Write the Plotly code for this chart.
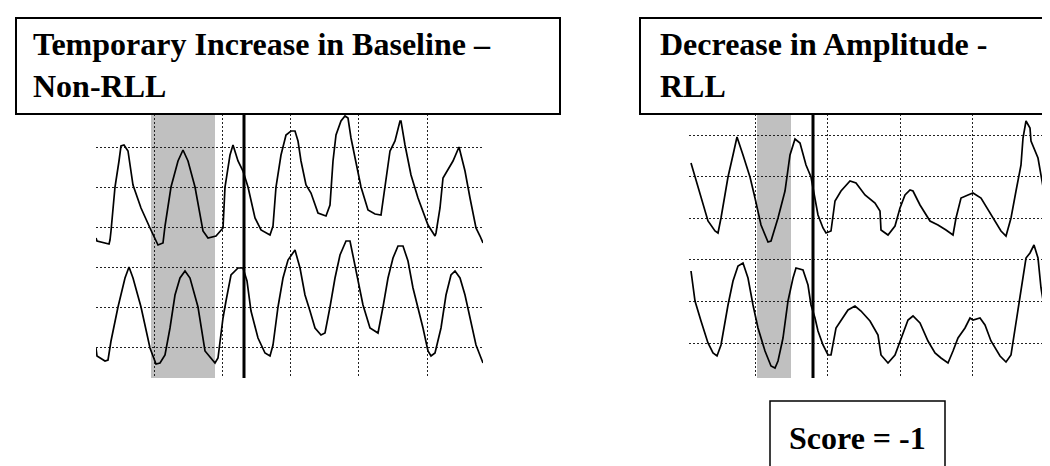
import plotly.graph_objects as go

W, H = 1050, 466

# ---------------- data (sample index / amplitude units) ----------------
left_top_t = [88, 89, 101, 102, 103, 107, 111, 113, 116, 120, 125, 133, 142, 150, 155, 157, 163, 170, 175, 180,
              187, 195, 200, 208, 215, 217, 222, 225, 230, 235, 240, 247, 253, 262, 265, 268, 273, 278, 283, 287,
              290, 293, 298, 303, 310, 318, 322, 325, 328, 333, 337, 340, 343, 348, 353, 360, 367, 373, 377, 382,
              387, 392, 393, 397, 403, 410, 420, 427, 428, 432, 435, 440, 445, 451, 457, 462, 468, 472, 475]
left_top_v = [230, 233, 236, 232, 223, 179, 153, 138, 137, 143, 177, 200, 220, 237, 235, 218, 179, 153, 142, 153,
              179, 223, 230, 228, 220, 179, 147, 137, 153, 163, 179, 210, 222, 227, 218, 179, 147, 127, 123, 123,
              133, 153, 177, 185, 205, 208, 197, 153, 127, 113, 108, 110, 130, 153, 179, 202, 206, 207, 179, 143,
              133, 113, 113, 137, 167, 190, 217, 228, 225, 200, 170, 162, 153, 139, 163, 190, 220, 228, 235]

left_bot_t = [88, 89, 97, 100, 103, 110, 117, 121, 125, 133, 142, 148, 152, 157, 162, 167, 172, 177, 182, 190,
              197, 207, 210, 215, 218, 223, 230, 235, 239, 243, 250, 257, 262, 265, 270, 275, 280, 287, 292, 297,
              302, 307, 313, 317, 322, 327, 332, 338, 342, 345, 350, 355, 362, 370, 375, 380, 385, 390, 395, 400,
              405, 410, 415, 420, 423, 427, 433, 438, 443, 447, 452, 457, 462, 468, 475]
left_bot_v = [340, 348, 353, 352, 333, 299, 270, 259, 270, 299, 340, 356, 355, 347, 320, 287, 270, 263, 270, 299,
              343, 355, 350, 310, 293, 267, 260, 260, 273, 303, 330, 345, 348, 337, 299, 270, 252, 242, 260, 287,
              303, 320, 327, 325, 299, 270, 247, 233, 233, 247, 273, 297, 320, 325, 299, 270, 250, 238, 238, 253,
              280, 299, 320, 343, 348, 345, 320, 287, 267, 263, 270, 287, 310, 337, 355]

right_top_t = [683, 687, 693, 700, 707, 710, 713, 720, 725, 729, 735, 742, 747, 753, 760, 763, 770, 777, 782, 787,
               792, 798, 803, 807, 810, 815, 818, 823, 827, 833, 842, 848, 857, 867, 872, 873, 880, 887, 892, 897,
               902, 905, 912, 922, 930, 938, 945, 948, 953, 960, 965, 973, 983, 993, 998, 1003, 1008, 1013, 1015,
               1018, 1022, 1023, 1030, 1033, 1037, 1039, 1043, 1050]
right_top_v = [155, 169, 190, 213, 223, 225, 210, 169, 147, 129, 147, 169, 190, 217, 234, 233, 210, 183, 147, 131,
               135, 157, 169, 190, 207, 220, 225, 223, 193, 183, 173, 175, 187, 195, 203, 222, 227, 218, 200, 187,
               182, 183, 197, 213, 217, 222, 227, 210, 190, 187, 185, 190, 207, 223, 228, 210, 183, 157, 130,
               113, 120, 133, 150, 169, 190, 208, 213, 217]

right_bot_t = [683, 687, 693, 700, 705, 709, 713, 720, 725, 730, 735, 740, 745, 750, 757, 763, 767, 770, 775, 780,
               785, 788, 795, 800, 803, 807, 810, 815, 820, 823, 828, 833, 840, 847, 853, 862, 870, 873, 880, 887,
               892, 897, 900, 905, 912, 920, 927, 933, 940, 945, 950, 957, 962, 965, 972, 977, 983, 992, 998, 1003,
               1008, 1013, 1018, 1022, 1026, 1030, 1033, 1038, 1043, 1048]
right_bot_v = [263, 293, 313, 335, 345, 348, 337, 297, 273, 258, 255, 270, 297, 320, 343, 358, 360, 353, 330, 293,
               270, 260, 262, 277, 297, 310, 323, 337, 347, 347, 320, 312, 302, 298, 303, 313, 327, 347, 355, 347,
               333, 320, 312, 308, 315, 333, 345, 350, 355, 343, 330, 320, 310, 312, 310, 317, 333, 348, 354, 347,
               313, 283, 250, 245, 237, 250, 280, 310, 337, 358]

left_window = (143, 207)
left_marker = 236
right_window = (749, 783)
right_marker = 805

left_title = "Temporary Increase in Baseline –<br>Non-RLL"
right_title = "Decrease in Amplitude -<br>RLL"
score_text = "Score = -1"

# ---------------- helpers ----------------
def px(x):
    return x / W


def py(y):
    return 1 - y / H


fig = go.Figure()
for t, v, xa, ya in [(left_top_t, left_top_v, "x", "y"), (left_bot_t, left_bot_v, "x", "y"),
                     (right_top_t, right_top_v, "x2", "y2"), (right_bot_t, right_bot_v, "x2", "y2")]:
    fig.add_trace(go.Scatter(x=t, y=v, mode="lines", xaxis=xa, yaxis=ya,
                             line=dict(color="black", width=1.7), hoverinfo="skip", showlegend=False))

grid = dict(showgrid=True, gridcolor="#222", griddash="2px,2px", gridwidth=1, showticklabels=False,
            ticks="", zeroline=False, showline=False, fixedrange=True)

fig.update_layout(
    width=W, height=H, margin=dict(l=0, r=0, t=0, b=0),
    paper_bgcolor="white", plot_bgcolor="rgba(0,0,0,0)", showlegend=False,
    xaxis=dict(domain=[px(88), px(475)], range=[88, 475], tick0=146, dtick=68.25, **grid),
    yaxis=dict(domain=[py(370), py(106)], range=[370, 106], tick0=139, dtick=40, **grid),
    xaxis2=dict(domain=[px(681), 1], range=[681, 1050], tick0=747, dtick=72.5, anchor="y2", **grid),
    yaxis2=dict(domain=[py(370), py(106)], range=[370, 106], tick0=127, dtick=41.6, anchor="x2", **grid),
)

shapes = []
for (w0, w1), m, xr, yr in [(left_window, left_marker, "x", "y domain"), (right_window, right_marker, "x2", "y2 domain")]:
    shapes.append(dict(type="rect", xref=xr, yref=yr, x0=w0, x1=w1, y0=0, y1=1,
                       fillcolor="#c0c0c0", line=dict(width=0), layer="below"))
    shapes.append(dict(type="line", xref=xr, yref=yr, x0=m, x1=m, y0=0, y1=1,
                       line=dict(color="black", width=3), layer="above"))

# title boxes and score box
shapes.append(dict(type="rect", xref="paper", yref="paper", x0=px(8), x1=px(552), y0=py(106), y1=py(10),
                   fillcolor="white", line=dict(color="black", width=2), layer="above"))
shapes.append(dict(type="rect", xref="paper", yref="paper", x0=px(632), x1=px(1062), y0=py(106), y1=py(10),
                   fillcolor="white", line=dict(color="black", width=2), layer="above"))
shapes.append(dict(type="rect", xref="paper", yref="paper", x0=px(762), x1=px(937), y0=py(465), y1=py(393),
                   fillcolor="white", line=dict(color="black", width=1.5), layer="above"))
fig.update_layout(shapes=shapes)

font = dict(family="Liberation Serif", size=32, color="black", weight="bold")
fig.add_annotation(xref="paper", yref="paper", x=px(23), y=py(16), xanchor="left", yanchor="top",
                   text=left_title, showarrow=False, align="left", font=font)
fig.add_annotation(xref="paper", yref="paper", x=px(650), y=py(16), xanchor="left", yanchor="top",
                   text=right_title, showarrow=False, align="left", font=font)
fig.add_annotation(xref="paper", yref="paper", x=px(849.5), y=py(430), xanchor="center", yanchor="middle",
                   text=score_text, showarrow=False, align="center", font=font)

fig.write_html("out.html")
